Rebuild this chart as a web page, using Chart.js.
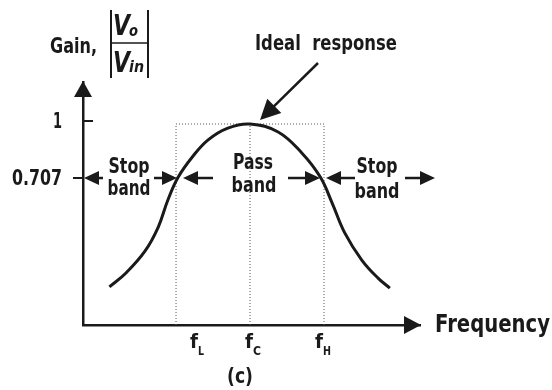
<!DOCTYPE html>
<html><head><meta charset="utf-8">
<script src="https://cdn.jsdelivr.net/npm/chart.js@4/dist/chart.umd.min.js"></script>
<style>html,body{margin:0;padding:0;background:#fff}#wrap{width:552px;height:390px}</style>
</head><body><div id="wrap"><canvas id="c" width="552" height="390"></canvas></div>
<script>
// ---- data ----
const frequency = [-19.0, -16.8, -14.2, -12.4, -11.1, -9.7, -7.8, -5.7, -3.0, 0, 3.8, 7.0, 9.5, 11.1, 12.8, 15.1, 17.3, 18.9];
const gain      = [0.116, 0.190, 0.310, 0.441, 0.588, 0.712, 0.821, 0.913, 0.978, 1.0, 0.957, 0.843, 0.712, 0.571, 0.409, 0.262, 0.164, 0.110];
const cutoffFreqs  = [-10, 0, 10];            // fL, fC, fH
const cutoffNames  = ['f', 'f', 'f'];
const cutoffSubs   = ['L', 'C', 'H'];
const gainTicks    = [0.707, 1];
const gainTickText = ['0.707', '1'];
const xRange = [-22.57, 22.97];
const yRange = [-0.0906, 1.228];

const FONT = '"DejaVu Sans", sans-serif';
const INK = '#1a1a1a';

const [fL, fC, fH] = cutoffFreqs;

const annot = {
  id: 'annot',
  afterDraw(chart) {
    const ctx = chart.ctx, xs = chart.scales.x, ys = chart.scales.y, ca = chart.chartArea;
    const X = v => xs.getPixelForValue(v), Y = v => ys.getPixelForValue(v);
    ctx.save();
    ctx.fillStyle = INK; ctx.strokeStyle = INK;
    const tri = (tx, ty, dx, dy, len, hw) => {
      const n = Math.hypot(dx, dy); const ux = dx / n, uy = dy / n;
      const bx = tx - ux * len, by = ty - uy * len;
      ctx.beginPath(); ctx.moveTo(tx, ty);
      ctx.lineTo(bx - uy * hw, by + ux * hw);
      ctx.lineTo(bx + uy * hw, by - ux * hw);
      ctx.closePath(); ctx.fill();
    };
    const arrow = (x1, y1, x2, y2, len = 15, hw = 7) => {
      ctx.lineWidth = 2.5;
      ctx.beginPath(); ctx.moveTo(x1, y1);
      const n = Math.hypot(x2 - x1, y2 - y1);
      ctx.lineTo(x2 - (x2 - x1) / n * (len - 2), y2 - (y2 - y1) / n * (len - 2)); ctx.stroke();
      tri(x2, y2, x2 - x1, y2 - y1, len, hw);
    };
    const txt = (s, x, y, size, w, align = 'left', style = 'bold') => {
      ctx.font = style + ' ' + size + 'px ' + FONT;
      const m = ctx.measureText(s).width;
      ctx.save(); ctx.translate(x, y); ctx.scale(w / m, 1);
      ctx.textAlign = align; ctx.fillText(s, 0, 0); ctx.restore();
    };
    // axis arrowheads
    tri(ca.left, ca.top - 1, 0, -1, 16, 9);
    tri(ca.right + 1, ca.bottom, 1, 0, 17, 9);
    // tick marks + labels
    ctx.lineWidth = 2;
    ctx.beginPath(); ctx.moveTo(ca.left, Y(1) - 3); ctx.lineTo(ca.left + 10, Y(1) - 3); ctx.stroke();
    ctx.beginPath(); ctx.moveTo(ca.left - 10, Y(0.707)); ctx.lineTo(ca.left, Y(0.707)); ctx.stroke();
    ctx.textBaseline = 'alphabetic';
    txt(gainTickText[1], 62, Y(gainTicks[1]) + 4, 21, 9, 'right');
    txt(gainTickText[0], 62, Y(gainTicks[0]) + 7, 21, 50, 'right');
    // band arrows at 0.707
    const y7 = Y(0.707);
    arrow(ca.left + 20, y7, ca.left + 1, y7);
    arrow(X(fL) - 22, y7, X(fL) + 1, y7);
    arrow(X(fL) + 37, y7, X(fL) + 7, y7);
    arrow(X(fH) - 36, y7, X(fH) - 4, y7);
    arrow(X(fH) + 31, y7, X(fH) + 2, y7);
    arrow(X(fH) + 81, y7, X(fH) + 111, y7);
    // ideal response arrow
    arrow(318, 63, X(fC) + 10, Y(1) - 4, 20, 10);

    // texts
    txt('Gain,', 50, 53, 22, 47);
    txt('Ideal  response', 326, 50, 21, 142, 'center');
    txt('Stop', 129, 173, 22, 41, 'center'); txt('band', 129, 195, 22, 43, 'center');
    txt('Pass', 253, 169, 22, 40, 'center'); txt('band', 254, 192, 22, 45, 'center');
    txt('Stop', 377, 173, 22, 41, 'center'); txt('band', 377, 198, 22, 45, 'center');
    txt('(c)', 240, 383, 22, 26, 'center');
    txt('Frequency', 435, 332, 25, 115);
    // cutoff labels
    const offs = [14, -5, -9];
    cutoffFreqs.forEach((f, i) => {
      const px = X(f) + offs[i];
      txt(cutoffNames[i], px, 348, 19, 8);
      txt(cutoffSubs[i], px + 8, 355, 12, cutoffSubs[i] === 'L' ? 6 : 8);
    });
    // |Vo / Vin|
    ctx.lineWidth = 2;
    ctx.beginPath(); ctx.moveTo(111, 10); ctx.lineTo(111, 78); ctx.stroke();
    ctx.beginPath(); ctx.moveTo(148, 10); ctx.lineTo(148, 78); ctx.stroke();
    ctx.lineWidth = 1.5;
    ctx.beginPath(); ctx.moveTo(112, 43); ctx.lineTo(147, 43); ctx.stroke();
    txt('V', 113, 35, 29, 17, 'left', 'italic bold');
    txt('V', 113, 72, 29, 17, 'left', 'italic bold');
    txt('o', 129, 36, 16, 9, 'left', 'italic bold');
    txt('in', 129, 72, 16, 15, 'left', 'italic bold');
    ctx.restore();
  }
};

const dotted = { borderColor: '#555', borderWidth: 1, borderDash: [1, 2], pointRadius: 0, tension: 0, fill: false, clip: false };

new Chart(document.getElementById('c'), {
  type: 'line',
  data: {
    datasets: [
      {
        label: 'Ideal response',
        data: frequency.map((x, i) => ({ x, y: gain[i] })),
        borderColor: INK, borderWidth: 3, pointRadius: 0,
        tension: 0.4, fill: false
      },
      Object.assign({ label: 'band edges', data: [
        { x: fL, y: yRange[0] }, { x: fL, y: 1 }, { x: fH, y: 1 }, { x: fH, y: yRange[0] }] }, dotted),
      Object.assign({ label: 'centre', data: [{ x: fC, y: yRange[0] }, { x: fC, y: 1 }] }, dotted)
    ]
  },
  options: {
    responsive: false,
    animation: false,
    devicePixelRatio: 1,
    layout: { padding: { left: 0, top: 82, right: 132, bottom: 0 } },
    plugins: { legend: { display: false }, tooltip: { enabled: false } },
    scales: {
      x: {
        type: 'linear', min: xRange[0], max: xRange[1],
        grid: { display: false }, ticks: { display: false },
        border: { display: true, color: INK, width: 2.5 },
        afterFit: s => { s.height = 65; }
      },
      y: {
        type: 'linear', min: yRange[0], max: yRange[1],
        grid: { display: false },
        afterBuildTicks: s => { s.ticks = gainTicks.map(v => ({ value: v })); },
        ticks: { display: false },
        border: { display: true, color: INK, width: 2.5 },
        afterFit: s => { s.width = 83; }
      }
    }
  },
  plugins: [annot]
});
</script>
</body></html>
